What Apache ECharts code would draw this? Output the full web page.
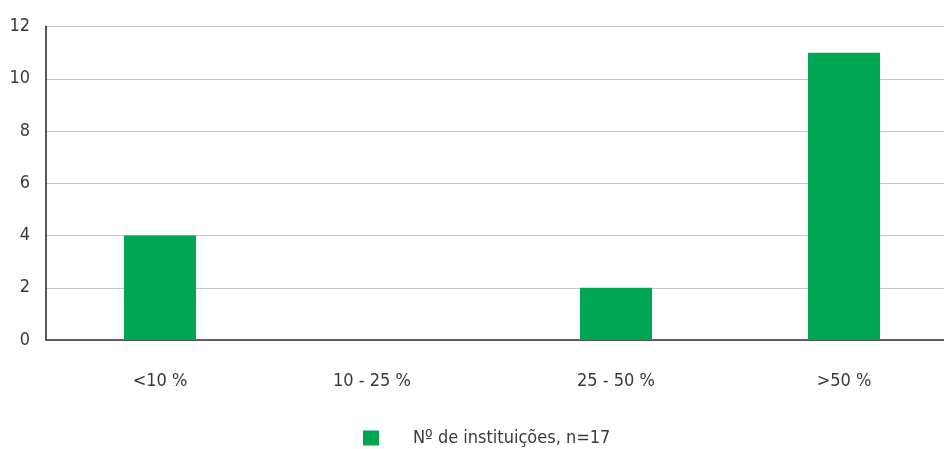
<!DOCTYPE html>
<html>
<head>
<meta charset="utf-8">
<script src="https://cdn.jsdelivr.net/npm/echarts@6/dist/echarts.min.js"></script>
<style>html,body{margin:0;padding:0;background:#fff;overflow:hidden}#c{width:958px;height:449px}</style>
</head>
<body>
<div id="c"></div>
<script>
const categories = ['<10 %', '10 - 25 %', '25 - 50 %', '>50 %'];
const values = [4, 0, 2, 11];
const seriesName = 'Nº de instituições, n=17';
const yTicks = [0, 2, 4, 6, 8, 10, 12];

const FONT = '"DejaVu Sans Condensed", Roboto, sans-serif';
const chart = echarts.init(document.getElementById('c'), null, {renderer: 'canvas'});
chart.setOption({
  animation: false,
  grid: {left: 46, right: 0, top: 26.5, bottom: 109, containLabel: false},
  legend: {
    data: [seriesName], left: 363, top: 429, itemWidth: 16, itemHeight: 15, padding: 0,
    icon: 'rect',
    textStyle: {fontFamily: FONT, fontSize: 18, color: '#3a3a3a', padding: [0, 0, 0, 29]}
  },
  xAxis: {
    type: 'category', data: categories,
    axisLine: {lineStyle: {color: '#333', width: 1.5}},
    axisTick: {show: false},
    axisLabel: {
      fontFamily: FONT, fontSize: 18, color: '#3a3a3a', margin: 32,
      formatter: function (v, i) { return i === 1 ? '{s|' + v + '}' : v; },
      rich: {s: {fontFamily: FONT, fontSize: 18, color: '#3a3a3a', padding: [0, 32, 0, 0]}}
    }
  },
  yAxis: {
    type: 'value', min: yTicks[0], max: yTicks[yTicks.length - 1], interval: 2,
    axisLine: {show: true, lineStyle: {color: '#222', width: 1.5}},
    axisTick: {show: false},
    splitLine: {lineStyle: {color: '#c8c8c8', width: 1}},
    axisLabel: {fontFamily: FONT, fontSize: 18, color: '#3a3a3a', margin: 16}
  },
  series: [{
    name: seriesName, type: 'bar', data: values, barWidth: 72,
    itemStyle: {color: '#00A651'}
  }]
});
</script>
</body>
</html>
